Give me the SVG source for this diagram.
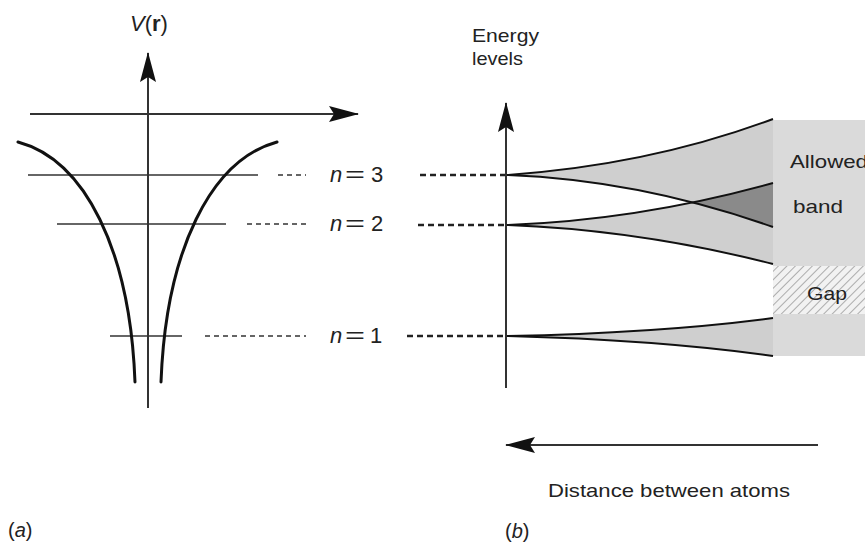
<svg xmlns="http://www.w3.org/2000/svg" width="865" height="550" viewBox="0 0 865 550">
<style>
.txt{font-family:"Liberation Sans",Arial,sans-serif;fill:#222}
.axis{stroke:#333;stroke-width:2;fill:none}
.level{stroke:#333;stroke-width:1.6;fill:none}
.well{stroke:#111;stroke-width:3;fill:none;stroke-linecap:round}
.dashA{stroke:#333;stroke-width:1.6;stroke-dasharray:5 4;fill:none}
.dashB{stroke:#222;stroke-width:2.4;stroke-dasharray:6 4;fill:none}
.band{fill:#cfcfcf;stroke:none}
.edge{fill:none;stroke:#111;stroke-width:2}
</style>
<defs>
<marker id="arr" viewBox="0 0 30 16" refX="29" refY="8" markerWidth="30" markerHeight="16" markerUnits="userSpaceOnUse" orient="auto">
<path d="M0,0 L30,8 L0,16 L5,8 Z" fill="#111"/>
</marker>
<pattern id="hatch" width="6" height="6" patternUnits="userSpaceOnUse" patternTransform="rotate(45)">
<rect width="6" height="6" fill="#f2f2f2"/>
<line x1="0" y1="0" x2="0" y2="6" stroke="#9a9a9a" stroke-width="1.6"/>
</pattern>
<path id="b3" d="M507,175 Q650,165 773,119 L773,227 Q640,180 507,175 Z"/>
<clipPath id="clip3"><use href="#b3"/></clipPath>
</defs>

<rect width="865" height="550" fill="#fff"/>

<g id="panel-a">
<text class="txt" x="130" y="31" font-size="22"><tspan font-style="italic">V</tspan>(<tspan font-weight="bold">r</tspan>)</text>
<line class="axis" x1="30" y1="114" x2="358" y2="114" marker-end="url(#arr)"/>
<line class="axis" x1="148" y1="408" x2="148" y2="53" marker-end="url(#arr)"/>
<line class="level" x1="28" y1="175" x2="258" y2="175"/>
<line class="level" x1="57" y1="224" x2="226" y2="224"/>
<line class="level" x1="110" y1="336" x2="182" y2="336"/>
<path class="well" d="M18,142 C85,160 130,250 135,382"/>
<path class="well" d="M277,142 C211,160 166,250 161,382"/>
<text class="txt" x="8" y="537" font-size="20">(<tspan font-style="italic">a</tspan>)</text>
</g>

<g id="labels-n">
<text class="txt" y="182" font-size="22"><tspan x="330" font-style="italic">n</tspan><tspan x="345" textLength="20" lengthAdjust="spacingAndGlyphs">=</tspan><tspan x="371">3</tspan></text>
<text class="txt" y="231" font-size="22"><tspan x="330" font-style="italic">n</tspan><tspan x="345" textLength="20" lengthAdjust="spacingAndGlyphs">=</tspan><tspan x="371">2</tspan></text>
<text class="txt" y="343" font-size="22"><tspan x="330" font-style="italic">n</tspan><tspan x="345" textLength="20" lengthAdjust="spacingAndGlyphs">=</tspan><tspan x="370">1</tspan></text>
</g>

<g id="connectors">
<line class="dashA" x1="278" y1="175" x2="306" y2="175"/>
<line class="dashA" x1="247" y1="224" x2="306" y2="224"/>
<line class="dashA" x1="205" y1="336" x2="306" y2="336"/>
<line class="dashB" x1="420" y1="175" x2="506" y2="175"/>
<line class="dashB" x1="418" y1="225" x2="506" y2="225"/>
<line class="dashB" x1="407" y1="336" x2="506" y2="336"/>
</g>

<g id="panel-b">
<text class="txt" x="472" y="42" font-size="19" textLength="67" lengthAdjust="spacingAndGlyphs">Energy</text>
<text class="txt" x="472" y="65" font-size="19" textLength="51" lengthAdjust="spacingAndGlyphs">levels</text>
<rect x="773" y="120" width="92" height="146" fill="#dadada"/>
<rect x="773" y="266" width="92" height="48" fill="url(#hatch)"/>
<rect x="773" y="314" width="92" height="42" fill="#dadada"/>
<use href="#b3" class="band"/>
<path class="band" d="M507,225 Q640,220 773,183 L773,264 Q640,230 507,225 Z"/>
<path d="M507,225 Q640,220 773,183 L773,264 Q640,230 507,225 Z" fill="#8a8a8a" clip-path="url(#clip3)"/>
<path class="edge" d="M507,175 Q650,165 773,119"/>
<path class="edge" d="M507,175 Q640,180 773,227"/>
<path class="edge" d="M507,225 Q640,220 773,183"/>
<path class="edge" d="M507,225 Q640,230 773,264"/>
<path class="band" d="M507,336 Q660,333 773,318 L773,356 Q660,340 507,336 Z"/>
<path class="edge" d="M507,336 Q660,333 773,318"/>
<path class="edge" d="M507,336 Q660,340 773,356"/>
<line class="axis" x1="506" y1="388" x2="506" y2="103" marker-end="url(#arr)"/>
<text class="txt" x="790" y="168" font-size="19" textLength="78" lengthAdjust="spacingAndGlyphs">Allowed</text>
<text class="txt" x="793" y="213" font-size="19" textLength="50" lengthAdjust="spacingAndGlyphs">band</text>
<text class="txt" x="807" y="300" font-size="19" textLength="40" lengthAdjust="spacingAndGlyphs">Gap</text>
<line class="axis" x1="818" y1="445" x2="506" y2="445" marker-end="url(#arr)"/>
<text class="txt" x="548" y="497" font-size="19" textLength="242" lengthAdjust="spacingAndGlyphs">Distance between  atoms</text>
<text class="txt" x="505" y="538" font-size="20">(<tspan font-style="italic">b</tspan>)</text>
</g>
</svg>
